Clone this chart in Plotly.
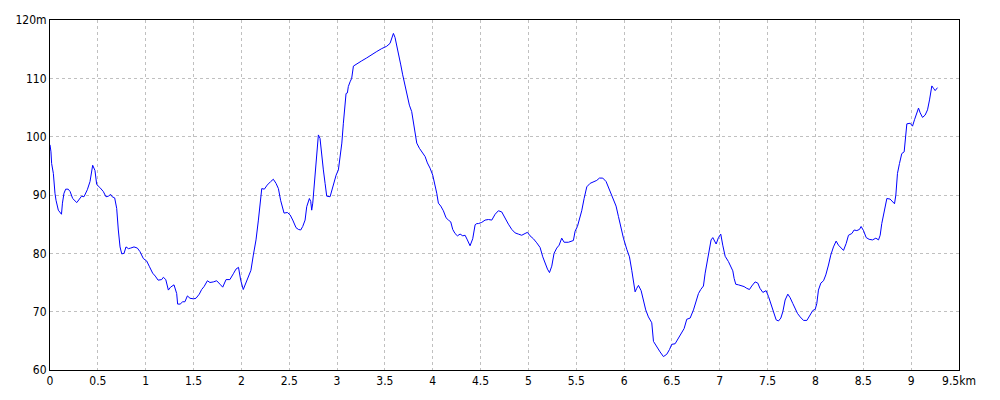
import plotly.graph_objects as go

distance_km = [
    0.0, 0.01, 0.017, 0.035, 0.052, 0.063, 0.087, 0.105, 0.12, 0.13, 0.146, 0.164, 0.19, 0.21, 0.237,
    0.28, 0.31, 0.33, 0.355, 0.39, 0.418, 0.446, 0.47, 0.488, 0.52, 0.557, 0.585, 0.61, 0.634, 0.65,
    0.676, 0.697, 0.714, 0.732, 0.75, 0.774, 0.794, 0.82, 0.843, 0.878, 0.913, 0.94, 0.976, 1.01,
    1.04, 1.073, 1.1, 1.13, 1.167, 1.185, 1.21, 1.237, 1.26, 1.296, 1.324, 1.334, 1.36, 1.387, 1.41,
    1.436, 1.463, 1.5, 1.526, 1.56, 1.585, 1.61, 1.645, 1.672, 1.707, 1.742, 1.777, 1.805, 1.84,
    1.88, 1.916, 1.944, 1.97, 1.993, 2.02, 2.056, 2.1, 2.125, 2.153, 2.178, 2.195, 2.213, 2.24,
    2.27, 2.306, 2.334, 2.362, 2.387, 2.41, 2.446, 2.481, 2.509, 2.537, 2.571, 2.596, 2.62, 2.641,
    2.666, 2.683, 2.711, 2.725, 2.735, 2.746, 2.77, 2.787, 2.805, 2.822, 2.84, 2.857, 2.875, 2.892,
    2.927, 2.944, 2.969, 2.99, 3.014, 3.03, 3.05, 3.066, 3.084, 3.094, 3.108, 3.118, 3.136, 3.153,
    3.171, 3.206, 3.258, 3.31, 3.362, 3.415, 3.467, 3.519, 3.554, 3.571, 3.589, 3.606, 3.624, 3.648,
    3.666, 3.686, 3.711, 3.735, 3.756, 3.78, 3.798, 3.815, 3.833, 3.861, 3.885, 3.92, 3.944, 3.972,
    4.0, 4.024, 4.042, 4.059, 4.084, 4.111, 4.139, 4.164, 4.188, 4.209, 4.233, 4.258, 4.286, 4.314,
    4.338, 4.362, 4.39, 4.418, 4.443, 4.46, 4.477, 4.512, 4.547, 4.582, 4.617, 4.652, 4.686, 4.721,
    4.756, 4.791, 4.826, 4.861, 4.895, 4.93, 4.965, 4.99, 5.017, 5.052, 5.087, 5.122, 5.15, 5.174,
    5.199, 5.22, 5.244, 5.268, 5.296, 5.321, 5.348, 5.373, 5.418, 5.47, 5.488, 5.512, 5.533, 5.557,
    5.582, 5.61, 5.645, 5.679, 5.714, 5.742, 5.777, 5.812, 5.847, 5.882, 5.916, 5.941, 5.965, 5.993,
    6.028, 6.056, 6.08, 6.105, 6.115, 6.132, 6.15, 6.178, 6.202, 6.226, 6.254, 6.289, 6.307, 6.341,
    6.376, 6.411, 6.446, 6.474, 6.498, 6.533, 6.568, 6.603, 6.627, 6.655, 6.69, 6.725, 6.753, 6.777,
    6.801, 6.829, 6.847, 6.871, 6.892, 6.909, 6.927, 6.941, 6.962, 6.986, 7.01, 7.031, 7.056, 7.09,
    7.115, 7.136, 7.15, 7.167, 7.195, 7.23, 7.254, 7.282, 7.31, 7.334, 7.369, 7.397, 7.42, 7.45,
    7.484, 7.509, 7.533, 7.561, 7.589, 7.613, 7.638, 7.659, 7.683, 7.711, 7.735, 7.763, 7.787, 7.812,
    7.84, 7.875, 7.91, 7.944, 7.972, 7.997, 8.014, 8.031, 8.056, 8.084, 8.108, 8.136, 8.16, 8.188,
    8.216, 8.24, 8.265, 8.293, 8.321, 8.345, 8.38, 8.404, 8.432, 8.46, 8.477, 8.502, 8.53, 8.561,
    8.596, 8.631, 8.659, 8.676, 8.693, 8.718, 8.746, 8.78, 8.808, 8.826, 8.84, 8.857, 8.878, 8.902,
    8.927, 8.937, 8.955, 8.99, 9.014, 9.035, 9.059, 9.077, 9.094, 9.119, 9.146, 9.171, 9.192, 9.206,
    9.216, 9.233, 9.251, 9.275,
]

elevation_m = [
    98.6, 97.4, 95.4, 93.7, 90.3, 89.1, 87.4, 87.0, 86.7, 88.6, 90.3, 91.0, 91.0, 90.6, 89.4,
    88.7, 89.5, 89.8, 89.7, 90.9, 92.3, 95.1, 94.2, 91.8, 91.3, 90.6, 89.7, 89.8, 90.1, 89.7,
    89.5, 87.7, 84.0, 81.1, 79.9, 80.0, 81.1, 80.8, 80.9, 81.1, 80.9, 80.3, 79.1, 78.7,
    77.7, 76.6, 76.1, 75.4, 75.5, 75.9, 75.5, 73.7, 74.2, 74.6, 73.1, 71.3, 71.3, 71.7, 71.7,
    72.7, 72.3, 72.2, 72.3, 73.0, 73.8, 74.3, 75.3, 75.0, 75.1, 75.3, 74.7, 74.2, 75.5,
    75.5, 76.5, 77.3, 77.6, 75.4, 73.8, 75.4, 77.1, 79.7, 82.3, 85.7, 88.6, 91.1, 91.0,
    91.7, 92.3, 92.7, 92.0, 91.1, 89.1, 86.9, 87.0, 86.6, 85.7, 84.4, 84.1, 84.0, 84.6,
    85.7, 88.0, 89.4, 88.9, 87.4, 88.6, 93.1, 97.1, 100.3, 99.7, 96.6, 94.3, 92.0, 89.8,
    89.7, 90.7, 92.1, 93.4, 94.3, 96.0, 98.9, 102.3, 106.3, 107.4, 107.5, 108.6, 109.4, 110.0,
    112.1, 112.5, 113.0, 113.5, 114.1, 114.6, 115.1, 115.5, 116.0, 116.9, 117.7, 117.0, 115.4, 113.7,
    112.3, 110.6, 108.6, 107.1, 105.4, 104.3, 102.6, 100.6, 98.9, 98.0, 97.4, 96.6, 95.5, 94.6,
    93.4, 91.7, 90.3, 88.6, 88.1, 87.3, 86.1, 85.7, 85.4, 84.1, 83.4, 83.0, 83.3, 83.0,
    83.1, 82.3, 81.3, 82.5, 84.9, 85.1, 85.1, 85.3, 85.7, 85.8, 85.7, 86.7, 87.3, 87.1,
    86.0, 85.0, 84.1, 83.5, 83.3, 83.1, 83.4, 83.6, 83.0, 82.5, 81.8, 81.0, 79.4, 78.3,
    77.3, 76.7, 77.8, 80.0, 80.9, 81.4, 82.6, 81.9, 81.9, 82.2, 83.8, 84.6, 85.7, 87.3,
    89.4, 91.4, 92.0, 92.3, 92.5, 92.9, 92.9, 92.3, 90.9, 89.4, 88.1, 86.3, 84.6, 82.6,
    80.7, 79.4, 77.1, 74.3, 73.4, 74.0, 74.5, 73.6, 72.0, 70.3, 69.1, 68.1, 64.9, 63.9,
    63.1, 62.3, 62.7, 63.5, 64.4, 64.5, 65.4, 66.3, 67.1, 68.7, 68.9, 70.3, 71.7, 73.1,
    73.8, 74.4, 76.6, 79.1, 80.9, 82.3, 82.7, 82.3, 81.6, 82.7, 83.3, 81.4, 79.5, 78.6,
    77.7, 77.0, 75.7, 74.7, 74.6, 74.5, 74.3, 74.0, 73.8, 74.4, 75.1, 74.9, 74.0, 73.3,
    73.6, 72.6, 71.3, 69.7, 68.6, 68.4, 68.9, 70.0, 72.0, 73.0, 72.4, 71.4, 70.6, 69.7,
    69.1, 68.5, 68.5, 69.4, 70.2, 70.4, 71.4, 73.7, 74.9, 75.3, 76.3, 78.0, 79.7, 81.1,
    82.1, 81.4, 80.9, 80.5, 81.7, 83.1, 83.4, 84.0, 83.9, 84.1, 84.6, 83.9, 82.7, 82.4,
    82.3, 82.6, 82.3, 83.1, 85.1, 87.3, 89.4, 89.3, 88.9, 88.5, 90.0, 93.7, 95.4, 97.1,
    97.4, 99.4, 102.2, 102.3, 101.8, 102.9, 104.0, 104.9, 104.1, 103.3, 103.7, 104.6, 106.3, 108.0,
    108.7, 108.3, 107.9, 108.4,
]

x_tick_vals = [0, 0.5, 1, 1.5, 2, 2.5, 3, 3.5, 4, 4.5, 5, 5.5, 6, 6.5, 7, 7.5, 8, 8.5, 9, 9.5]
x_tick_text = ["0", "0.5", "1", "1.5", "2", "2.5", "3", "3.5", "4", "4.5", "5", "5.5", "6", "6.5",
               "7", "7.5", "8", "8.5", "9", "9.5km"]
y_tick_vals = [60, 70, 80, 90, 100, 110, 120]
y_tick_text = ["60", "70", "80", "90", "100", "110", "120m"]

fig = go.Figure()
fig.add_trace(go.Scatter(
    x=distance_km, y=elevation_m, mode="lines",
    line=dict(color="#0000ff", width=1),
    hoverinfo="skip", showlegend=False,
))

axis_common = dict(
    showline=True, linecolor="black", linewidth=1, mirror=True,
    showgrid=True, gridcolor="#c0c0c0", griddash="3px,3px", gridwidth=1,
    zeroline=False, ticks="", automargin=False,
    tickfont=dict(family="Liberation Sans Narrow, Arial Narrow, DejaVu Sans Condensed", size=12, color="black"),
)

fig.update_layout(
    width=1000, height=400,
    margin=dict(l=50, r=41, t=20, b=30),
    paper_bgcolor="white", plot_bgcolor="white",
    xaxis=dict(range=[0, 9.5], tickmode="array", tickvals=x_tick_vals, ticktext=x_tick_text, **axis_common),
    yaxis=dict(range=[60, 120], tickmode="array", tickvals=y_tick_vals, ticktext=y_tick_text, **axis_common),
)

fig.write_html(
    "out.html",
    config={"displayModeBar": False, "staticPlot": True},
    post_script="document.body.style.margin='0';document.body.style.overflow='hidden';",
)
